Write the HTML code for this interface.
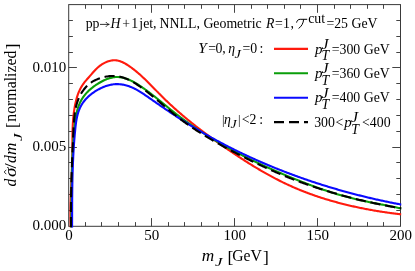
<!DOCTYPE html>
<html><head><meta charset="utf-8"><title>plot</title>
<style>html,body{margin:0;padding:0;background:#fff;}body{width:415px;height:271px;overflow:hidden;font-family:"Liberation Serif",serif;}</style>
</head><body>
<svg width="415" height="271" viewBox="0 0 415 271" style="display:block;will-change:transform;">
<rect x="0" y="0" width="415" height="271" fill="#fff"/>
<defs><clipPath id="c"><rect x="66.7" y="4.6" width="334.8" height="222.9"/></clipPath></defs>
<path d="M85.5,226.3v-4.2M85.5,4.6v4.2M101.5,226.3v-4.2M101.5,4.6v4.2M118.5,226.3v-4.2M118.5,4.6v4.2M135.5,226.3v-4.2M135.5,4.6v4.2M151.5,226.3v-8.2M151.5,4.6v8.2M168.5,226.3v-4.2M168.5,4.6v4.2M184.5,226.3v-4.2M184.5,4.6v4.2M201.5,226.3v-4.2M201.5,4.6v4.2M218.5,226.3v-4.2M218.5,4.6v4.2M234.5,226.3v-8.2M234.5,4.6v8.2M251.5,226.3v-4.2M251.5,4.6v4.2M267.5,226.3v-4.2M267.5,4.6v4.2M284.5,226.3v-4.2M284.5,4.6v4.2M300.5,226.3v-4.2M300.5,4.6v4.2M317.5,226.3v-8.2M317.5,4.6v8.2M334.5,226.3v-4.2M334.5,4.6v4.2M350.5,226.3v-4.2M350.5,4.6v4.2M367.5,226.3v-4.2M367.5,4.6v4.2M383.5,226.3v-4.2M383.5,4.6v4.2M68.7,210.5h4.2M400.5,210.5h-4.2M68.7,194.5h4.2M400.5,194.5h-4.2M68.7,178.5h4.2M400.5,178.5h-4.2M68.7,162.5h4.2M400.5,162.5h-4.2M68.7,147.5h8.2M400.5,147.5h-8.2M68.7,131.5h4.2M400.5,131.5h-4.2M68.7,115.5h4.2M400.5,115.5h-4.2M68.7,99.5h4.2M400.5,99.5h-4.2M68.7,83.5h4.2M400.5,83.5h-4.2M68.7,67.5h8.2M400.5,67.5h-8.2M68.7,52.5h4.2M400.5,52.5h-4.2M68.7,36.5h4.2M400.5,36.5h-4.2M68.7,20.5h4.2M400.5,20.5h-4.2" stroke="#444" stroke-width="1" fill="none"/>
<rect x="68.7" y="4.6" width="331.8" height="221.70000000000002" fill="none" stroke="#3a3a3a" stroke-width="1"/>
<g clip-path="url(#c)" fill="none" stroke-width="2.1" stroke-linejoin="round">
<path d="M70.84,228.00 L70.78,226.96 L70.73,225.91 L70.69,224.87 L70.65,223.82 L70.61,222.78 L70.58,221.73 L70.55,220.69 L70.52,219.65 L70.50,218.60 L70.49,217.56 L70.47,216.52 L70.46,215.47 L70.45,214.43 L70.45,213.39 L70.45,212.35 L70.45,211.31 L70.46,210.26 L70.47,209.22 L70.48,208.18 L70.49,207.14 L70.51,206.10 L70.53,205.06 L70.55,204.02 L70.57,202.98 L70.60,201.94 L70.63,200.90 L70.66,199.86 L70.69,198.82 L70.72,197.78 L70.76,196.74 L70.79,195.70 L70.83,194.66 L70.87,193.62 L70.91,192.58 L70.95,191.54 L70.99,190.50 L71.04,189.46 L71.08,188.42 L71.13,187.38 L71.17,186.34 L71.22,185.30 L71.26,184.26 L71.31,183.22 L71.36,182.19 L71.41,181.15 L71.45,180.11 L71.50,179.07 L71.55,178.03 L71.59,176.99 L71.64,175.95 L71.69,174.91 L71.73,173.87 L71.78,172.83 L71.82,171.79 L71.86,170.75 L71.90,169.71 L71.94,168.67 L71.98,167.63 L72.02,166.59 L72.06,165.54 L72.09,164.50 L72.13,163.46 L72.16,162.42 L72.19,161.38 L72.22,160.34 L72.24,159.30 L72.27,158.25 L72.29,157.21 L72.31,156.17 L72.33,155.12 L72.34,154.08 L72.35,153.04 L72.36,151.99 L72.37,150.95 L72.38,149.91 L72.39,148.86 L72.39,147.82 L72.39,146.77 L72.40,145.73 L72.40,144.69 L72.40,143.64 L72.41,142.60 L72.41,141.55 L72.42,140.51 L72.42,139.47 L72.43,138.42 L72.44,137.38 L72.45,136.34 L72.47,135.29 L72.48,134.25 L72.50,133.21 L72.52,132.16 L72.55,131.12 L72.58,130.08 L72.61,129.04 L72.65,128.00 L72.69,126.96 L72.73,125.92 L72.79,124.88 L72.84,123.84 L72.90,122.80 L72.97,121.76 L73.04,120.73 L73.12,119.69 L73.21,118.65 L73.30,117.62 L73.40,116.58 L73.50,115.55 L73.62,114.52 L73.74,113.49 L73.87,112.45 L74.01,111.42 L74.16,110.39 L74.31,109.36 L74.48,108.34 L74.65,107.31 L74.83,106.28 L75.03,105.26 L75.23,104.23 L75.45,103.21 L75.67,102.19 L75.91,101.17 L76.16,100.16 L76.43,99.15 L76.71,98.14 L77.00,97.15 L77.32,96.15 L77.64,95.17 L77.99,94.19 L78.35,93.22 L78.73,92.26 L79.14,91.31 L79.56,90.37 L80.00,89.44 L80.47,88.52 L80.95,87.62 L81.46,86.72 L82.00,85.85 L82.56,84.98 L83.14,84.13 L83.75,83.30 L84.37,82.47 L85.01,81.66 L85.67,80.85 L86.34,80.06 L87.02,79.27 L87.71,78.48 L88.40,77.70 L89.09,76.93 L89.78,76.15 L90.47,75.37 L91.15,74.59 L91.82,73.81 L92.50,73.03 L93.17,72.24 L93.85,71.47 L94.55,70.70 L95.26,69.94 L95.99,69.18 L96.75,68.45 L97.54,67.73 L98.35,67.03 L99.18,66.34 L100.04,65.69 L100.92,65.05 L101.82,64.45 L102.73,63.88 L103.66,63.33 L104.60,62.83 L105.56,62.36 L106.52,61.93 L107.50,61.55 L108.48,61.21 L109.47,60.91 L110.46,60.67 L111.45,60.48 L112.44,60.34 L113.43,60.26 L114.42,60.24 L115.41,60.29 L116.38,60.39 L117.36,60.54 L118.33,60.75 L119.29,61.01 L120.25,61.32 L121.20,61.67 L122.14,62.06 L123.08,62.49 L124.01,62.95 L124.93,63.44 L125.85,63.97 L126.76,64.51 L127.66,65.08 L128.55,65.67 L129.43,66.27 L130.31,66.89 L131.17,67.51 L132.03,68.15 L132.88,68.79 L133.72,69.43 L134.55,70.09 L135.38,70.75 L136.19,71.41 L137.00,72.09 L137.81,72.76 L138.60,73.45 L139.39,74.14 L140.18,74.83 L140.95,75.53 L141.73,76.23 L142.49,76.94 L143.26,77.65 L144.01,78.37 L144.77,79.09 L145.52,79.81 L146.26,80.54 L147.01,81.27 L147.74,82.00 L148.48,82.73 L149.21,83.47 L149.95,84.20 L150.67,84.94 L151.40,85.68 L152.13,86.42 L152.85,87.17 L153.58,87.91 L154.30,88.65 L155.02,89.40 L155.74,90.14 L156.47,90.88 L157.19,91.62 L157.92,92.36 L158.64,93.11 L159.37,93.84 L160.10,94.58 L160.83,95.32 L161.56,96.05 L162.29,96.78 L163.03,97.51 L163.77,98.23 L164.51,98.96 L165.26,99.68 L166.01,100.40 L166.76,101.12 L167.51,101.83 L168.26,102.55 L169.02,103.26 L169.77,103.96 L170.54,104.67 L171.30,105.38 L172.06,106.08 L172.83,106.78 L173.60,107.48 L174.37,108.17 L175.14,108.86 L175.92,109.56 L176.70,110.25 L177.48,110.93 L178.26,111.62 L179.04,112.30 L179.83,112.98 L180.61,113.66 L181.40,114.34 L182.19,115.02 L182.99,115.69 L183.78,116.36 L184.58,117.03 L185.38,117.70 L186.18,118.37 L186.98,119.03 L187.78,119.69 L188.59,120.35 L189.39,121.01 L190.20,121.67 L191.01,122.32 L191.83,122.98 L192.64,123.63 L193.45,124.28 L194.27,124.93 L195.09,125.57 L195.91,126.22 L196.73,126.86 L197.55,127.50 L198.38,128.14 L199.20,128.78 L200.03,129.41 L200.86,130.05 L201.69,130.68 L202.52,131.31 L203.36,131.94 L204.19,132.57 L205.02,133.20 L205.86,133.82 L206.70,134.45 L207.54,135.07 L208.38,135.69 L209.22,136.31 L210.06,136.92 L210.91,137.54 L211.75,138.15 L212.60,138.77 L213.45,139.38 L214.29,139.99 L215.14,140.60 L215.99,141.20 L216.85,141.81 L217.70,142.41 L218.55,143.02 L219.41,143.62 L220.26,144.22 L221.12,144.82 L221.97,145.41 L222.83,146.01 L223.69,146.61 L224.55,147.20 L225.41,147.79 L226.27,148.38 L227.13,148.97 L228.00,149.56 L228.86,150.15 L229.72,150.74 L230.59,151.32 L231.45,151.91 L232.32,152.49 L233.18,153.07 L234.05,153.65 L234.92,154.23 L235.79,154.81 L236.66,155.38 L237.53,155.96 L238.40,156.53 L239.27,157.11 L240.14,157.68 L241.02,158.24 L241.89,158.81 L242.77,159.38 L243.64,159.94 L244.52,160.50 L245.40,161.07 L246.28,161.62 L247.16,162.18 L248.04,162.74 L248.92,163.29 L249.80,163.84 L250.69,164.39 L251.57,164.94 L252.46,165.48 L253.34,166.03 L254.23,166.57 L255.12,167.11 L256.01,167.64 L256.90,168.18 L257.80,168.71 L258.69,169.24 L259.59,169.77 L260.48,170.30 L261.38,170.82 L262.28,171.34 L263.18,171.86 L264.08,172.37 L264.98,172.89 L265.89,173.40 L266.79,173.91 L267.70,174.41 L268.61,174.91 L269.52,175.41 L270.43,175.91 L271.34,176.41 L272.25,176.90 L273.17,177.39 L274.08,177.87 L275.00,178.36 L275.92,178.84 L276.84,179.31 L277.77,179.79 L278.69,180.26 L279.62,180.73 L280.54,181.19 L281.47,181.65 L282.40,182.11 L283.34,182.57 L284.27,183.02 L285.20,183.47 L286.14,183.91 L287.08,184.35 L288.02,184.79 L288.96,185.23 L289.91,185.66 L290.86,186.08 L291.80,186.51 L292.75,186.93 L293.70,187.35 L294.66,187.76 L295.61,188.17 L296.57,188.58 L297.53,188.98 L298.49,189.38 L299.45,189.77 L300.41,190.17 L301.38,190.56 L302.35,190.94 L303.31,191.32 L304.28,191.70 L305.25,192.08 L306.23,192.45 L307.20,192.82 L308.18,193.18 L309.15,193.55 L310.13,193.90 L311.11,194.26 L312.09,194.61 L313.08,194.96 L314.06,195.31 L315.05,195.65 L316.03,195.99 L317.02,196.32 L318.01,196.66 L319.00,196.99 L319.99,197.31 L320.98,197.63 L321.98,197.95 L322.97,198.27 L323.97,198.58 L324.97,198.90 L325.96,199.20 L326.96,199.51 L327.96,199.81 L328.97,200.11 L329.97,200.40 L330.97,200.69 L331.98,200.98 L332.98,201.27 L333.99,201.55 L335.00,201.83 L336.00,202.11 L337.01,202.38 L338.02,202.66 L339.03,202.92 L340.04,203.19 L341.06,203.45 L342.07,203.71 L343.08,203.97 L344.10,204.22 L345.11,204.47 L346.13,204.72 L347.14,204.97 L348.16,205.21 L349.18,205.45 L350.20,205.69 L351.21,205.92 L352.23,206.16 L353.25,206.38 L354.27,206.61 L355.29,206.84 L356.32,207.06 L357.34,207.27 L358.36,207.49 L359.38,207.70 L360.40,207.91 L361.43,208.12 L362.45,208.33 L363.47,208.53 L364.50,208.73 L365.52,208.93 L366.55,209.12 L367.57,209.32 L368.60,209.51 L369.62,209.70 L370.65,209.88 L371.67,210.06 L372.70,210.24 L373.72,210.42 L374.75,210.60 L375.77,210.77 L376.80,210.94 L377.83,211.11 L378.85,211.28 L379.88,211.44 L380.90,211.60 L381.93,211.76 L382.95,211.92 L383.98,212.07 L385.00,212.22 L386.03,212.37 L387.05,212.52 L388.08,212.67 L389.10,212.81 L390.13,212.95 L391.15,213.09 L392.18,213.23 L393.20,213.36 L394.22,213.49 L395.24,213.62 L396.27,213.75 L397.29,213.88 L398.31,214.00 L399.33,214.12 L400.35,214.24 L401.37,214.36" stroke="#ff1a0d"/>
<path d="M71.26,228.02 L71.27,227.02 L71.29,226.03 L71.30,225.04 L71.31,224.05 L71.32,223.05 L71.33,222.06 L71.34,221.07 L71.35,220.08 L71.36,219.09 L71.37,218.11 L71.38,217.12 L71.39,216.13 L71.39,215.14 L71.40,214.16 L71.41,213.17 L71.42,212.19 L71.43,211.20 L71.43,210.22 L71.44,209.23 L71.45,208.25 L71.46,207.27 L71.46,206.28 L71.47,205.30 L71.48,204.32 L71.49,203.34 L71.49,202.36 L71.50,201.38 L71.51,200.40 L71.52,199.42 L71.53,198.44 L71.54,197.46 L71.55,196.48 L71.56,195.50 L71.56,194.52 L71.57,193.54 L71.59,192.56 L71.60,191.58 L71.61,190.61 L71.62,189.63 L71.63,188.65 L71.64,187.67 L71.66,186.70 L71.67,185.72 L71.69,184.74 L71.70,183.76 L71.72,182.79 L71.73,181.81 L71.75,180.83 L71.77,179.86 L71.79,178.88 L71.80,177.90 L71.82,176.92 L71.84,175.95 L71.87,174.97 L71.89,173.99 L71.91,173.02 L71.94,172.04 L71.96,171.06 L71.99,170.08 L72.02,169.11 L72.04,168.13 L72.07,167.15 L72.10,166.17 L72.13,165.19 L72.17,164.21 L72.20,163.23 L72.24,162.25 L72.27,161.27 L72.31,160.29 L72.35,159.31 L72.39,158.33 L72.43,157.35 L72.47,156.37 L72.52,155.39 L72.56,154.41 L72.61,153.43 L72.66,152.44 L72.71,151.46 L72.76,150.48 L72.81,149.49 L72.86,148.51 L72.92,147.52 L72.98,146.54 L73.04,145.55 L73.10,144.57 L73.16,143.58 L73.22,142.59 L73.29,141.60 L73.36,140.61 L73.43,139.62 L73.50,138.63 L73.57,137.64 L73.64,136.65 L73.72,135.66 L73.80,134.67 L73.88,133.67 L73.96,132.68 L74.05,131.69 L74.13,130.69 L74.22,129.69 L74.31,128.70 L74.41,127.70 L74.50,126.70 L74.60,125.71 L74.71,124.71 L74.82,123.72 L74.94,122.73 L75.06,121.74 L75.19,120.75 L75.33,119.76 L75.48,118.78 L75.64,117.80 L75.80,116.83 L75.98,115.86 L76.17,114.89 L76.37,113.93 L76.58,112.97 L76.80,112.03 L77.04,111.08 L77.29,110.15 L77.56,109.22 L77.84,108.29 L78.14,107.38 L78.45,106.47 L78.78,105.58 L79.13,104.69 L79.50,103.81 L79.89,102.94 L80.29,102.08 L80.72,101.23 L81.17,100.39 L81.64,99.57 L82.13,98.75 L82.64,97.95 L83.18,97.15 L83.74,96.37 L84.32,95.61 L84.91,94.85 L85.53,94.11 L86.17,93.37 L86.83,92.65 L87.51,91.94 L88.20,91.25 L88.91,90.56 L89.64,89.89 L90.38,89.23 L91.14,88.58 L91.92,87.94 L92.71,87.31 L93.52,86.70 L94.34,86.10 L95.17,85.51 L96.01,84.93 L96.87,84.36 L97.74,83.81 L98.62,83.26 L99.52,82.73 L100.42,82.22 L101.33,81.71 L102.25,81.23 L103.18,80.76 L104.11,80.31 L105.05,79.88 L105.99,79.47 L106.94,79.09 L107.89,78.74 L108.85,78.42 L109.80,78.12 L110.76,77.86 L111.71,77.63 L112.66,77.43 L113.61,77.27 L114.56,77.15 L115.50,77.07 L116.44,77.03 L117.38,77.02 L118.31,77.05 L119.24,77.12 L120.16,77.21 L121.08,77.35 L122.00,77.51 L122.91,77.70 L123.82,77.92 L124.72,78.17 L125.62,78.45 L126.52,78.75 L127.41,79.07 L128.30,79.42 L129.18,79.79 L130.06,80.19 L130.94,80.60 L131.81,81.03 L132.68,81.48 L133.54,81.94 L134.41,82.42 L135.26,82.91 L136.11,83.42 L136.96,83.93 L137.81,84.46 L138.65,85.00 L139.48,85.55 L140.32,86.10 L141.14,86.66 L141.97,87.22 L142.79,87.79 L143.61,88.36 L144.42,88.93 L145.23,89.51 L146.03,90.09 L146.84,90.68 L147.64,91.27 L148.43,91.86 L149.22,92.46 L150.02,93.05 L150.80,93.65 L151.59,94.26 L152.37,94.86 L153.15,95.47 L153.93,96.08 L154.71,96.69 L155.48,97.30 L156.25,97.92 L157.03,98.53 L157.79,99.15 L158.56,99.77 L159.33,100.39 L160.10,101.01 L160.86,101.63 L161.62,102.25 L162.39,102.87 L163.15,103.50 L163.91,104.12 L164.67,104.74 L165.44,105.36 L166.20,105.99 L166.96,106.61 L167.72,107.23 L168.48,107.85 L169.25,108.47 L170.01,109.09 L170.77,109.70 L171.54,110.32 L172.30,110.93 L173.07,111.55 L173.84,112.16 L174.61,112.77 L175.38,113.38 L176.15,113.98 L176.92,114.58 L177.70,115.18 L178.48,115.78 L179.26,116.38 L180.04,116.97 L180.82,117.56 L181.60,118.15 L182.39,118.74 L183.18,119.32 L183.97,119.90 L184.76,120.48 L185.55,121.06 L186.34,121.63 L187.14,122.21 L187.94,122.78 L188.73,123.35 L189.53,123.91 L190.34,124.48 L191.14,125.04 L191.94,125.60 L192.75,126.16 L193.56,126.71 L194.37,127.26 L195.18,127.82 L195.99,128.36 L196.81,128.91 L197.62,129.46 L198.44,130.00 L199.26,130.54 L200.08,131.08 L200.90,131.61 L201.72,132.15 L202.54,132.68 L203.37,133.21 L204.20,133.74 L205.02,134.26 L205.85,134.79 L206.68,135.31 L207.52,135.83 L208.35,136.35 L209.18,136.86 L210.02,137.38 L210.86,137.89 L211.70,138.40 L212.54,138.91 L213.38,139.41 L214.22,139.92 L215.06,140.42 L215.91,140.92 L216.76,141.42 L217.60,141.92 L218.45,142.41 L219.30,142.90 L220.15,143.40 L221.00,143.89 L221.86,144.37 L222.71,144.86 L223.57,145.34 L224.42,145.82 L225.28,146.30 L226.14,146.78 L227.00,147.26 L227.86,147.73 L228.72,148.21 L229.59,148.68 L230.45,149.15 L231.31,149.62 L232.18,150.08 L233.05,150.55 L233.92,151.01 L234.78,151.47 L235.65,151.93 L236.53,152.39 L237.40,152.84 L238.27,153.30 L239.15,153.75 L240.02,154.20 L240.90,154.65 L241.77,155.10 L242.65,155.54 L243.53,155.99 L244.41,156.43 L245.29,156.87 L246.17,157.31 L247.05,157.75 L247.93,158.19 L248.82,158.62 L249.70,159.06 L250.59,159.49 L251.47,159.92 L252.36,160.35 L253.25,160.77 L254.13,161.20 L255.02,161.63 L255.91,162.05 L256.80,162.47 L257.70,162.89 L258.59,163.31 L259.48,163.73 L260.37,164.14 L261.27,164.56 L262.16,164.97 L263.06,165.38 L263.95,165.79 L264.85,166.20 L265.75,166.61 L266.64,167.01 L267.54,167.42 L268.44,167.82 L269.34,168.22 L270.24,168.62 L271.14,169.02 L272.04,169.42 L272.94,169.82 L273.85,170.21 L274.75,170.61 L275.65,171.00 L276.56,171.39 L277.46,171.78 L278.36,172.17 L279.27,172.56 L280.17,172.95 L281.08,173.33 L281.99,173.72 L282.89,174.10 L283.80,174.48 L284.71,174.87 L285.62,175.24 L286.52,175.62 L287.43,176.00 L288.34,176.38 L289.25,176.75 L290.16,177.13 L291.07,177.50 L291.98,177.87 L292.89,178.24 L293.80,178.61 L294.71,178.98 L295.63,179.35 L296.54,179.71 L297.45,180.08 L298.36,180.44 L299.28,180.80 L300.19,181.17 L301.10,181.52 L302.02,181.88 L302.93,182.24 L303.85,182.59 L304.76,182.95 L305.68,183.30 L306.60,183.65 L307.51,184.00 L308.43,184.35 L309.35,184.69 L310.27,185.04 L311.19,185.38 L312.11,185.72 L313.03,186.06 L313.95,186.40 L314.87,186.73 L315.79,187.06 L316.72,187.40 L317.64,187.73 L318.56,188.05 L319.49,188.38 L320.41,188.70 L321.34,189.02 L322.27,189.34 L323.19,189.66 L324.12,189.98 L325.05,190.29 L325.98,190.60 L326.91,190.91 L327.84,191.22 L328.77,191.52 L329.71,191.82 L330.64,192.12 L331.57,192.42 L332.51,192.72 L333.44,193.01 L334.38,193.30 L335.32,193.59 L336.26,193.87 L337.20,194.15 L338.14,194.43 L339.08,194.71 L340.02,194.99 L340.96,195.26 L341.90,195.53 L342.85,195.80 L343.79,196.06 L344.74,196.32 L345.69,196.58 L346.64,196.84 L347.59,197.09 L348.54,197.34 L349.49,197.59 L350.44,197.83 L351.39,198.07 L352.35,198.31 L353.30,198.55 L354.26,198.78 L355.22,199.01 L356.18,199.24 L357.14,199.46 L358.10,199.68 L359.06,199.90 L360.02,200.12 L360.98,200.33 L361.95,200.54 L362.91,200.75 L363.87,200.96 L364.84,201.17 L365.81,201.37 L366.77,201.57 L367.74,201.77 L368.71,201.97 L369.67,202.17 L370.64,202.36 L371.61,202.56 L372.58,202.75 L373.54,202.95 L374.51,203.14 L375.48,203.33 L376.45,203.52 L377.42,203.71 L378.38,203.90 L379.35,204.09 L380.32,204.27 L381.29,204.46 L382.26,204.65 L383.22,204.84 L384.19,205.03 L385.15,205.21 L386.12,205.40 L387.09,205.59 L388.05,205.78 L389.01,205.97 L389.98,206.16 L390.94,206.35 L391.90,206.54 L392.86,206.74 L393.82,206.93 L394.78,207.12 L395.74,207.32 L396.70,207.52 L397.65,207.72 L398.61,207.92 L399.56,208.12 L400.52,208.32 L401.47,208.53" stroke="#0a9e0a"/>
<path d="M72.07,228.00 L72.07,227.04 L72.08,226.08 L72.08,225.11 L72.08,224.15 L72.09,223.19 L72.09,222.23 L72.09,221.27 L72.09,220.31 L72.10,219.35 L72.10,218.39 L72.10,217.42 L72.10,216.46 L72.11,215.50 L72.11,214.54 L72.11,213.58 L72.11,212.62 L72.12,211.66 L72.12,210.70 L72.12,209.74 L72.13,208.79 L72.13,207.83 L72.13,206.87 L72.14,205.91 L72.14,204.95 L72.15,203.99 L72.15,203.03 L72.16,202.07 L72.16,201.11 L72.17,200.15 L72.18,199.20 L72.18,198.24 L72.19,197.28 L72.20,196.32 L72.21,195.36 L72.22,194.40 L72.23,193.45 L72.24,192.49 L72.25,191.53 L72.26,190.57 L72.27,189.61 L72.28,188.66 L72.30,187.70 L72.31,186.74 L72.33,185.78 L72.34,184.82 L72.36,183.87 L72.38,182.91 L72.39,181.95 L72.41,180.99 L72.43,180.03 L72.45,179.08 L72.47,178.12 L72.50,177.16 L72.52,176.20 L72.54,175.24 L72.57,174.29 L72.60,173.33 L72.62,172.37 L72.65,171.41 L72.68,170.45 L72.71,169.49 L72.74,168.54 L72.78,167.58 L72.81,166.62 L72.84,165.66 L72.88,164.70 L72.92,163.74 L72.96,162.78 L73.00,161.82 L73.04,160.87 L73.08,159.91 L73.13,158.95 L73.17,157.99 L73.22,157.03 L73.27,156.07 L73.32,155.11 L73.37,154.15 L73.42,153.19 L73.47,152.23 L73.53,151.27 L73.59,150.31 L73.64,149.35 L73.70,148.39 L73.77,147.43 L73.83,146.46 L73.89,145.50 L73.96,144.54 L74.03,143.58 L74.10,142.62 L74.17,141.66 L74.24,140.69 L74.32,139.73 L74.40,138.77 L74.48,137.81 L74.56,136.84 L74.64,135.88 L74.72,134.92 L74.81,133.95 L74.90,132.99 L74.99,132.03 L75.08,131.06 L75.17,130.10 L75.27,129.13 L75.37,128.17 L75.47,127.20 L75.58,126.24 L75.69,125.28 L75.81,124.32 L75.94,123.36 L76.07,122.41 L76.21,121.46 L76.36,120.51 L76.52,119.57 L76.70,118.63 L76.88,117.69 L77.08,116.77 L77.30,115.84 L77.52,114.93 L77.77,114.02 L78.02,113.12 L78.30,112.22 L78.60,111.33 L78.91,110.46 L79.25,109.59 L79.60,108.73 L79.98,107.88 L80.38,107.04 L80.80,106.21 L81.25,105.40 L81.72,104.59 L82.21,103.80 L82.74,103.02 L83.28,102.25 L83.85,101.49 L84.44,100.75 L85.05,100.02 L85.68,99.30 L86.33,98.59 L87.00,97.90 L87.69,97.22 L88.40,96.55 L89.12,95.90 L89.86,95.27 L90.62,94.64 L91.39,94.03 L92.18,93.44 L92.97,92.85 L93.79,92.29 L94.61,91.74 L95.44,91.20 L96.29,90.68 L97.14,90.17 L98.00,89.68 L98.87,89.20 L99.75,88.74 L100.64,88.30 L101.53,87.87 L102.43,87.46 L103.33,87.08 L104.24,86.71 L105.16,86.36 L106.08,86.04 L107.00,85.74 L107.93,85.46 L108.86,85.20 L109.79,84.97 L110.72,84.77 L111.66,84.59 L112.59,84.44 L113.53,84.32 L114.47,84.23 L115.40,84.17 L116.34,84.13 L117.27,84.13 L118.20,84.15 L119.13,84.20 L120.06,84.27 L120.99,84.38 L121.91,84.50 L122.83,84.65 L123.75,84.83 L124.66,85.03 L125.57,85.25 L126.47,85.49 L127.37,85.75 L128.27,86.04 L129.15,86.35 L130.04,86.67 L130.91,87.02 L131.78,87.38 L132.65,87.76 L133.50,88.16 L134.36,88.57 L135.20,89.00 L136.04,89.44 L136.88,89.89 L137.71,90.36 L138.54,90.84 L139.37,91.33 L140.19,91.83 L141.01,92.34 L141.82,92.86 L142.63,93.39 L143.44,93.92 L144.25,94.46 L145.05,95.01 L145.85,95.55 L146.66,96.11 L147.46,96.66 L148.25,97.22 L149.05,97.77 L149.85,98.33 L150.65,98.89 L151.44,99.45 L152.24,100.00 L153.04,100.56 L153.84,101.11 L154.63,101.67 L155.43,102.22 L156.23,102.77 L157.02,103.32 L157.82,103.87 L158.61,104.42 L159.41,104.97 L160.21,105.52 L161.00,106.06 L161.80,106.61 L162.60,107.15 L163.40,107.70 L164.19,108.24 L164.99,108.78 L165.79,109.32 L166.59,109.86 L167.38,110.40 L168.18,110.94 L168.98,111.48 L169.78,112.01 L170.58,112.55 L171.38,113.08 L172.18,113.62 L172.98,114.15 L173.78,114.68 L174.58,115.21 L175.39,115.73 L176.19,116.26 L176.99,116.79 L177.79,117.31 L178.60,117.83 L179.40,118.36 L180.21,118.88 L181.01,119.39 L181.82,119.91 L182.63,120.43 L183.44,120.94 L184.25,121.46 L185.06,121.97 L185.87,122.48 L186.68,122.99 L187.49,123.50 L188.30,124.01 L189.11,124.51 L189.93,125.02 L190.74,125.52 L191.56,126.02 L192.38,126.52 L193.20,127.02 L194.01,127.52 L194.83,128.01 L195.65,128.51 L196.48,129.00 L197.30,129.49 L198.12,129.98 L198.95,130.47 L199.77,130.95 L200.60,131.44 L201.42,131.92 L202.25,132.40 L203.08,132.88 L203.91,133.36 L204.74,133.84 L205.57,134.32 L206.40,134.79 L207.24,135.26 L208.07,135.74 L208.90,136.21 L209.74,136.68 L210.58,137.14 L211.41,137.61 L212.25,138.07 L213.09,138.54 L213.93,139.00 L214.77,139.46 L215.61,139.92 L216.45,140.37 L217.30,140.83 L218.14,141.28 L218.98,141.74 L219.83,142.19 L220.68,142.64 L221.52,143.09 L222.37,143.53 L223.22,143.98 L224.07,144.42 L224.92,144.87 L225.77,145.31 L226.62,145.75 L227.47,146.19 L228.32,146.62 L229.18,147.06 L230.03,147.49 L230.89,147.93 L231.74,148.36 L232.60,148.79 L233.46,149.22 L234.32,149.64 L235.18,150.07 L236.04,150.49 L236.90,150.91 L237.76,151.34 L238.62,151.76 L239.48,152.17 L240.35,152.59 L241.21,153.01 L242.07,153.42 L242.94,153.83 L243.81,154.24 L244.67,154.65 L245.54,155.06 L246.41,155.47 L247.28,155.87 L248.15,156.28 L249.02,156.68 L249.89,157.08 L250.76,157.48 L251.63,157.88 L252.51,158.28 L253.38,158.67 L254.26,159.07 L255.13,159.46 L256.01,159.85 L256.88,160.24 L257.76,160.63 L258.64,161.02 L259.52,161.40 L260.40,161.79 L261.28,162.17 L262.16,162.55 L263.04,162.93 L263.92,163.31 L264.80,163.69 L265.69,164.06 L266.57,164.44 L267.45,164.81 L268.34,165.18 L269.22,165.55 L270.11,165.92 L271.00,166.29 L271.88,166.65 L272.77,167.02 L273.66,167.38 L274.55,167.74 L275.44,168.10 L276.33,168.46 L277.22,168.82 L278.11,169.18 L279.00,169.53 L279.90,169.89 L280.79,170.24 L281.68,170.59 L282.58,170.94 L283.47,171.28 L284.37,171.63 L285.26,171.98 L286.16,172.32 L287.06,172.66 L287.96,173.00 L288.85,173.34 L289.75,173.68 L290.65,174.02 L291.55,174.35 L292.45,174.69 L293.35,175.02 L294.25,175.35 L295.16,175.68 L296.06,176.01 L296.96,176.34 L297.86,176.66 L298.77,176.99 L299.67,177.31 L300.58,177.63 L301.48,177.95 L302.39,178.27 L303.30,178.59 L304.20,178.90 L305.11,179.22 L306.02,179.53 L306.93,179.84 L307.84,180.15 L308.75,180.46 L309.66,180.77 L310.57,181.08 L311.48,181.38 L312.39,181.69 L313.30,181.99 L314.21,182.29 L315.12,182.59 L316.04,182.89 L316.95,183.18 L317.86,183.48 L318.78,183.77 L319.69,184.07 L320.61,184.36 L321.52,184.65 L322.44,184.94 L323.36,185.23 L324.27,185.51 L325.19,185.80 L326.11,186.08 L327.03,186.36 L327.95,186.64 L328.86,186.92 L329.78,187.20 L330.70,187.48 L331.62,187.75 L332.54,188.03 L333.47,188.30 L334.39,188.57 L335.31,188.84 L336.23,189.11 L337.15,189.37 L338.08,189.64 L339.00,189.91 L339.92,190.17 L340.85,190.43 L341.77,190.69 L342.70,190.95 L343.62,191.21 L344.55,191.46 L345.47,191.72 L346.40,191.97 L347.32,192.23 L348.25,192.48 L349.18,192.73 L350.10,192.98 L351.03,193.22 L351.96,193.47 L352.89,193.71 L353.82,193.96 L354.75,194.20 L355.68,194.44 L356.60,194.68 L357.53,194.92 L358.46,195.15 L359.40,195.39 L360.33,195.62 L361.26,195.85 L362.19,196.08 L363.12,196.31 L364.05,196.54 L364.98,196.77 L365.92,197.00 L366.85,197.22 L367.78,197.44 L368.71,197.67 L369.65,197.89 L370.58,198.11 L371.52,198.32 L372.45,198.54 L373.38,198.76 L374.32,198.97 L375.25,199.18 L376.19,199.40 L377.12,199.61 L378.06,199.81 L379.00,200.02 L379.93,200.23 L380.87,200.43 L381.81,200.64 L382.74,200.84 L383.68,201.04 L384.62,201.24 L385.55,201.44 L386.49,201.64 L387.43,201.83 L388.37,202.03 L389.30,202.22 L390.24,202.41 L391.18,202.60 L392.12,202.79 L393.06,202.98 L394.00,203.17 L394.94,203.35 L395.88,203.54 L396.82,203.72 L397.76,203.90 L398.70,204.08 L399.64,204.26 L400.58,204.44 L401.52,204.61" stroke="#0a0aff"/>
<path id="blk" d="M70.98,228.02 L70.97,227.02 L70.96,226.01 L70.95,225.01 L70.95,224.00 L70.94,223.00 L70.94,222.00 L70.93,220.99 L70.93,219.99 L70.93,218.99 L70.92,217.99 L70.92,216.99 L70.92,215.99 L70.93,215.00 L70.93,214.00 L70.93,213.00 L70.93,212.01 L70.94,211.01 L70.94,210.02 L70.95,209.02 L70.96,208.03 L70.96,207.03 L70.97,206.04 L70.98,205.05 L70.99,204.06 L71.00,203.06 L71.01,202.07 L71.03,201.08 L71.04,200.09 L71.05,199.10 L71.07,198.11 L71.08,197.12 L71.10,196.13 L71.12,195.15 L71.13,194.16 L71.15,193.17 L71.17,192.18 L71.19,191.19 L71.21,190.21 L71.23,189.22 L71.25,188.23 L71.28,187.24 L71.30,186.26 L71.32,185.27 L71.35,184.28 L71.37,183.30 L71.40,182.31 L71.42,181.32 L71.45,180.34 L71.48,179.35 L71.50,178.36 L71.53,177.38 L71.56,176.39 L71.59,175.41 L71.62,174.42 L71.65,173.43 L71.69,172.45 L71.72,171.46 L71.75,170.47 L71.78,169.48 L71.82,168.50 L71.85,167.51 L71.89,166.52 L71.92,165.53 L71.96,164.55 L71.99,163.56 L72.03,162.57 L72.07,161.58 L72.10,160.59 L72.14,159.60 L72.18,158.61 L72.22,157.62 L72.26,156.63 L72.30,155.64 L72.34,154.65 L72.38,153.65 L72.42,152.66 L72.47,151.67 L72.51,150.68 L72.55,149.68 L72.59,148.69 L72.64,147.69 L72.68,146.70 L72.73,145.70 L72.77,144.71 L72.82,143.71 L72.86,142.71 L72.91,141.71 L72.95,140.71 L73.00,139.71 L73.05,138.71 L73.09,137.71 L73.14,136.71 L73.19,135.71 L73.24,134.70 L73.29,133.70 L73.33,132.70 L73.38,131.69 L73.43,130.68 L73.48,129.68 L73.53,128.67 L73.58,127.66 L73.64,126.65 L73.69,125.64 L73.75,124.63 L73.81,123.63 L73.88,122.62 L73.95,121.61 L74.03,120.61 L74.11,119.60 L74.20,118.60 L74.29,117.60 L74.40,116.61 L74.51,115.61 L74.63,114.62 L74.76,113.63 L74.90,112.65 L75.05,111.67 L75.22,110.69 L75.39,109.72 L75.58,108.75 L75.78,107.79 L76.00,106.83 L76.23,105.87 L76.47,104.93 L76.73,103.99 L77.01,103.05 L77.31,102.12 L77.62,101.20 L77.95,100.28 L78.30,99.37 L78.67,98.47 L79.06,97.57 L79.46,96.69 L79.89,95.81 L80.34,94.95 L80.81,94.09 L81.30,93.25 L81.81,92.42 L82.34,91.60 L82.89,90.80 L83.47,90.01 L84.06,89.23 L84.68,88.48 L85.31,87.74 L85.97,87.02 L86.65,86.31 L87.35,85.63 L88.07,84.97 L88.82,84.32 L89.59,83.70 L90.38,83.10 L91.19,82.53 L92.02,81.98 L92.87,81.45 L93.75,80.95 L94.64,80.47 L95.55,80.02 L96.48,79.59 L97.42,79.18 L98.37,78.80 L99.34,78.44 L100.31,78.10 L101.30,77.79 L102.29,77.50 L103.29,77.24 L104.29,77.00 L105.30,76.78 L106.32,76.59 L107.33,76.42 L108.34,76.28 L109.35,76.16 L110.36,76.07 L111.37,76.01 L112.37,75.98 L113.37,75.97 L114.36,76.00 L115.34,76.06 L116.32,76.15 L117.29,76.27 L118.25,76.41 L119.20,76.59 L120.15,76.79 L121.09,77.01 L122.02,77.26 L122.95,77.54 L123.87,77.84 L124.78,78.16 L125.69,78.50 L126.59,78.86 L127.48,79.24 L128.37,79.64 L129.25,80.06 L130.13,80.50 L131.00,80.95 L131.87,81.42 L132.73,81.90 L133.59,82.40 L134.44,82.90 L135.29,83.43 L136.13,83.96 L136.96,84.50 L137.80,85.05 L138.62,85.61 L139.45,86.17 L140.27,86.75 L141.08,87.33 L141.89,87.91 L142.70,88.50 L143.50,89.09 L144.30,89.69 L145.10,90.29 L145.89,90.89 L146.68,91.50 L147.47,92.11 L148.26,92.73 L149.04,93.35 L149.82,93.97 L150.59,94.59 L151.37,95.21 L152.14,95.84 L152.91,96.47 L153.68,97.10 L154.45,97.74 L155.21,98.37 L155.98,99.01 L156.74,99.65 L157.50,100.29 L158.26,100.93 L159.02,101.57 L159.78,102.21 L160.54,102.86 L161.29,103.50 L162.05,104.14 L162.81,104.79 L163.57,105.43 L164.32,106.07 L165.08,106.71 L165.84,107.36 L166.60,108.00 L167.36,108.64 L168.12,109.27 L168.88,109.91 L169.64,110.55 L170.40,111.18 L171.17,111.81 L171.93,112.44 L172.70,113.07 L173.47,113.70 L174.24,114.32 L175.02,114.94 L175.79,115.55 L176.57,116.17 L177.35,116.78 L178.14,117.39 L178.92,117.99 L179.71,118.59 L180.50,119.19 L181.29,119.79 L182.09,120.38 L182.88,120.97 L183.68,121.56 L184.48,122.14 L185.29,122.72 L186.09,123.30 L186.90,123.88 L187.71,124.45 L188.52,125.02 L189.34,125.59 L190.15,126.15 L190.97,126.71 L191.79,127.27 L192.61,127.83 L193.43,128.38 L194.26,128.93 L195.09,129.48 L195.92,130.03 L196.75,130.57 L197.58,131.11 L198.41,131.65 L199.25,132.19 L200.09,132.72 L200.93,133.26 L201.77,133.79 L202.61,134.31 L203.45,134.84 L204.30,135.36 L205.15,135.88 L206.00,136.40 L206.85,136.92 L207.70,137.43 L208.55,137.94 L209.41,138.45 L210.26,138.96 L211.12,139.46 L211.98,139.97 L212.84,140.47 L213.70,140.97 L214.56,141.47 L215.42,141.96 L216.29,142.46 L217.15,142.95 L218.02,143.44 L218.89,143.93 L219.76,144.41 L220.63,144.90 L221.50,145.38 L222.37,145.86 L223.24,146.34 L224.11,146.82 L224.99,147.30 L225.86,147.77 L226.74,148.24 L227.62,148.72 L228.50,149.19 L229.38,149.66 L230.25,150.12 L231.13,150.59 L232.02,151.05 L232.90,151.52 L233.78,151.98 L234.66,152.44 L235.55,152.90 L236.43,153.35 L237.31,153.81 L238.20,154.27 L239.09,154.72 L239.97,155.17 L240.86,155.62 L241.74,156.08 L242.63,156.52 L243.52,156.97 L244.41,157.42 L245.30,157.87 L246.19,158.31 L247.07,158.75 L247.96,159.20 L248.86,159.64 L249.75,160.08 L250.64,160.51 L251.53,160.95 L252.42,161.39 L253.32,161.82 L254.21,162.25 L255.10,162.68 L256.00,163.11 L256.89,163.54 L257.79,163.97 L258.69,164.40 L259.58,164.82 L260.48,165.24 L261.38,165.66 L262.28,166.08 L263.18,166.50 L264.08,166.92 L264.98,167.34 L265.88,167.75 L266.78,168.16 L267.68,168.57 L268.59,168.98 L269.49,169.39 L270.40,169.79 L271.30,170.20 L272.21,170.60 L273.12,171.00 L274.02,171.40 L274.93,171.80 L275.84,172.19 L276.75,172.59 L277.66,172.98 L278.57,173.37 L279.48,173.76 L280.40,174.14 L281.31,174.53 L282.22,174.91 L283.14,175.29 L284.05,175.67 L284.97,176.05 L285.89,176.42 L286.81,176.80 L287.73,177.17 L288.65,177.54 L289.57,177.91 L290.49,178.27 L291.41,178.64 L292.34,179.00 L293.26,179.36 L294.19,179.72 L295.11,180.07 L296.04,180.43 L296.97,180.78 L297.89,181.13 L298.82,181.48 L299.75,181.82 L300.68,182.17 L301.62,182.51 L302.55,182.85 L303.48,183.19 L304.42,183.53 L305.35,183.86 L306.29,184.19 L307.22,184.52 L308.16,184.85 L309.10,185.18 L310.04,185.50 L310.98,185.83 L311.92,186.15 L312.86,186.47 L313.80,186.79 L314.74,187.10 L315.68,187.41 L316.63,187.73 L317.57,188.04 L318.52,188.34 L319.46,188.65 L320.41,188.96 L321.35,189.26 L322.30,189.56 L323.25,189.86 L324.20,190.15 L325.15,190.45 L326.10,190.74 L327.05,191.04 L328.00,191.32 L328.95,191.61 L329.90,191.90 L330.86,192.18 L331.81,192.47 L332.76,192.75 L333.72,193.03 L334.67,193.30 L335.63,193.58 L336.59,193.85 L337.54,194.12 L338.50,194.39 L339.46,194.66 L340.42,194.93 L341.37,195.19 L342.33,195.46 L343.29,195.72 L344.25,195.98 L345.21,196.24 L346.18,196.49 L347.14,196.75 L348.10,197.00 L349.06,197.25 L350.02,197.50 L350.99,197.75 L351.95,197.99 L352.92,198.24 L353.88,198.48 L354.85,198.72 L355.81,198.96 L356.78,199.20 L357.74,199.43 L358.71,199.67 L359.68,199.90 L360.64,200.13 L361.61,200.36 L362.58,200.59 L363.55,200.81 L364.52,201.03 L365.48,201.26 L366.45,201.48 L367.42,201.70 L368.39,201.91 L369.36,202.13 L370.33,202.35 L371.30,202.56 L372.27,202.77 L373.25,202.98 L374.22,203.19 L375.19,203.39 L376.16,203.60 L377.13,203.80 L378.11,204.00 L379.08,204.20 L380.05,204.40 L381.02,204.60 L382.00,204.79 L382.97,204.99 L383.94,205.18 L384.92,205.37 L385.89,205.56 L386.87,205.75 L387.84,205.93 L388.82,206.12 L389.79,206.30 L390.77,206.48 L391.74,206.66 L392.71,206.84 L393.69,207.01 L394.67,207.19 L395.64,207.36 L396.62,207.54 L397.59,207.71 L398.57,207.88 L399.54,208.04 L400.52,208.21 L401.49,208.38" stroke="#000" stroke-dasharray="10.1 4.84" stroke-dashoffset="13.95"/>
</g>
<g fill="none" stroke-width="2.1">
<path d="M274,48.9H308" stroke="#ff1a0d"/>
<path d="M274,73.3H308" stroke="#0a9e0a"/>
<path d="M274,97.7H308" stroke="#0a0aff"/>
<path d="M274,122.1H308" stroke="#000" stroke-dasharray="10 5"/>
</g>
<g font-family="'Liberation Serif', serif" fill="#000" font-size="13.8">
<text x="85.7" y="28">pp</text>
<path d="M100,24.4H108.6M105.9,22C106.7,23.3 107.7,24 109.3,24.4C107.7,24.8 106.7,25.5 105.9,26.8" fill="none" stroke="#000" stroke-width="0.8"/>
<text x="110.4" y="28" font-style="italic">H</text>
<text x="122.2" y="28">+</text>
<text x="131.2" y="28">1</text>
<text x="139.3" y="28">jet,</text>
<text x="159.6" y="28">NNLL,</text>
<text x="203.4" y="28">Geometric</text>
<text x="266" y="28" font-style="italic">R</text>
<text x="274.9" y="28">=</text>
<text x="283.0" y="28">1</text>
<text x="290.4" y="28">,</text>
<path d="M296.6,22.6C296.9,20.6 298.2,19.3 300.2,19.3H307.2M303.6,19.4C303.4,23 301.5,26.6 298.6,28.4" fill="none" stroke="#000" stroke-width="1"/>
<text x="308.2" y="23">cut</text>
<text x="326.4" y="28">=25 GeV</text>
<text transform="translate(315.0,53.6) scale(1.08,1.0)" font-style="italic">p</text>
<text transform="translate(321.4,48.9) scale(1.15,1.0)" font-style="italic">J</text>
<text x="321.6" y="60.4" font-style="italic">T</text>
<text x="331.8" y="53.6">=300 GeV</text>
<text transform="translate(315.0,78.0) scale(1.08,1.0)" font-style="italic">p</text>
<text transform="translate(321.4,73.3) scale(1.15,1.0)" font-style="italic">J</text>
<text x="321.6" y="84.8" font-style="italic">T</text>
<text x="331.8" y="78.0">=360 GeV</text>
<text transform="translate(315.0,102.4) scale(1.08,1.0)" font-style="italic">p</text>
<text transform="translate(321.4,97.7) scale(1.15,1.0)" font-style="italic">J</text>
<text x="321.6" y="109.2" font-style="italic">T</text>
<text x="331.8" y="102.4">=400 GeV</text>
<text x="314.2" y="126.8">300</text>
<text x="335.6" y="126.8">&lt;</text>
<text transform="translate(344.3,126.8) scale(1.08,1.0)" font-style="italic">p</text>
<text transform="translate(351.1,122.1) scale(1.15,1.0)" font-style="italic">J</text>
<text x="351.2" y="133.6" font-style="italic">T</text>
<text x="362.1" y="126.8">&lt;400</text>
<text transform="translate(198.3,53.3) scale(1.1,1.0)" font-style="italic">Y</text>
<text x="208.2" y="53.3">=</text>
<text x="215.4" y="53.3">0,</text>
<text x="228.2" y="53.3" font-style="italic">η</text>
<text transform="translate(234.4,57.5) scale(1.25,1.0)" font-size="11.6" font-style="italic">J</text>
<text x="242.6" y="53.3">=0</text>
<text x="259.6" y="53.3">:</text>
<text x="222.0" y="124.2" font-size="12.4">|</text>
<text x="224.0" y="124.2" font-style="italic">η</text>
<text transform="translate(230.6,128.4) scale(1.2,1.0)" font-size="11.6" font-style="italic">J</text>
<text x="238.1" y="124.2" font-size="12.4">|</text>
<text x="241.8" y="124.2">&lt;2</text>
<text x="259.2" y="124.2">:</text>
<text x="68.90" y="240.2" font-size="15" text-anchor="middle">0</text>
<text x="151.85" y="240.2" font-size="15" text-anchor="middle">50</text>
<text x="234.80" y="240.2" font-size="15" text-anchor="middle">100</text>
<text x="317.75" y="240.2" font-size="15" text-anchor="middle">150</text>
<text x="400.70" y="240.2" font-size="15" text-anchor="middle">200</text>
<text x="66.2" y="230.00" font-size="15" text-anchor="end">0.000</text>
<text x="66.2" y="150.82" font-size="15" text-anchor="end">0.005</text>
<text x="66.2" y="71.64" font-size="15" text-anchor="end">0.010</text>
<text transform="translate(201.8,261.3) scale(1.1,1.0)" font-size="15.7" font-style="italic">m</text>
<text transform="translate(215.0,265.9) scale(1.3,1.0)" font-size="13" font-style="italic">J</text>
<text x="227.5" y="262.9" font-size="17.5">[</text>
<text x="232.2" y="261.3" font-size="15.7">GeV</text>
<text x="263.0" y="262.9" font-size="17.5">]</text>
<g transform="translate(16.4,186.4) rotate(-90)" font-size="15.7">
<text x="-0.2" y="0" font-style="italic">d</text>
<text transform="translate(9.3,0) scale(1.22,1.0)" font-style="italic">σ</text>
<path d="M12.2,-10.1L14.4,-12.2L16.6,-10.1" fill="none" stroke="#000" stroke-width="0.8"/>
<text transform="translate(17.8,0) scale(1.2,1.0)">/</text>
<text x="23.4" y="0" font-style="italic">d</text>
<text transform="translate(31.4,0) scale(1.09,1.0)" font-style="italic">m</text>
<text transform="translate(45.5,6.0) scale(1.35,1.0)" font-size="12.8" font-style="italic">J</text>
<text x="58.3" y="1.2" font-size="17">[</text>
<text x="64.7" y="0" font-size="15.8">normalized</text>
<text x="137.2" y="1.2" font-size="17">]</text>
</g>
</g>
</svg>
</body></html>
